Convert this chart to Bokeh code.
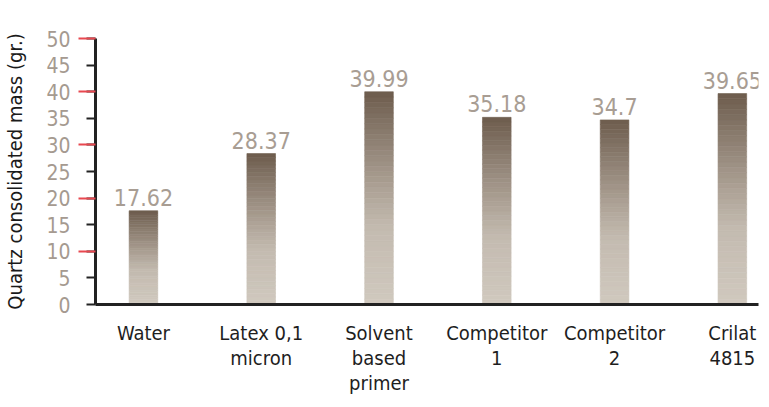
from bokeh.plotting import figure
from bokeh.models import Range1d, FixedTicker, ColumnDataSource, LabelSet
from bokeh.core.properties import value
from bokeh.embed import file_html
from bokeh.resources import INLINE

categories = ["Water", "Latex 0,1 micron", "Solvent based primer",
              "Competitor 1", "Competitor 2", "Crilat 4815"]
tick_labels = ["Water", "Latex 0,1\nmicron", "Solvent\nbased\nprimer",
               "Competitor\n1", "Competitor\n2", "Crilat\n4815"]
values = [17.62, 28.37, 39.99, 35.18, 34.7, 39.65]
y_ticks = [0, 5, 10, 15, 20, 25, 30, 35, 40, 45, 50]
y_major_red = [10, 20, 30, 40, 50]

FONT = "DejaVu Sans Condensed"

p = figure(width=761, height=399, output_backend="svg", toolbar_location=None,
           x_range=Range1d(-0.407, 5.222), y_range=Range1d(0, 50),
           min_border_left=87, min_border_right=3, min_border_top=38,
           min_border_bottom=95)
p.outline_line_color = None
p.grid.visible = False
p.background_fill_color = "white"
p.border_fill_color = "white"

def lerp(c1, c2, t):
    return tuple(int(round(a + (b - a) * t)) for a, b in zip(c1, c2))

bottom_c = (208, 201, 191)
mid_c = (196, 187, 176)
top_c = (109, 92, 77)
N = 40
xs, bots, tops, cols = [], [], [], []
for i, v in enumerate(values):
    for k in range(N):
        t = (k + 0.5) / N
        if t < 0.35:
            c = lerp(bottom_c, mid_c, t / 0.35)
        else:
            c = lerp(mid_c, top_c, ((t - 0.35) / 0.65) ** 1.1)
        xs.append(i)
        bots.append(v * k / N)
        tops.append(v * (k + 1) / N)
        cols.append("#%02x%02x%02x" % c)
src = ColumnDataSource(dict(x=xs, bottom=bots, top=tops, color=cols))
p.vbar(x="x", bottom="bottom", top="top", width=0.243, color="color",
       line_color="color", line_width=0.6, source=src)

lab = ColumnDataSource(dict(x=list(range(len(values))), y=values,
                            t=[str(v) for v in values]))
labels = LabelSet(x="x", y="y", text="t", source=lab, text_align="center",
                  text_baseline="bottom", y_offset=5, text_font=value(FONT),
                  text_font_size=value("23px"), text_color=value("#a89d93"))
p.add_layout(labels)

xa = p.xaxis[0]
xa.ticker = FixedTicker(ticks=list(range(len(categories))))
xa.major_label_overrides = {i: tick_labels[i] for i in range(len(categories))}
xa.major_tick_line_color = None
xa.minor_tick_line_color = None
xa.axis_line_color = "#222222"
xa.axis_line_width = 3
xa.major_label_text_font = FONT
xa.major_label_text_font_size = "20px"
xa.major_label_text_color = "#1e1e1e"
xa.major_label_standoff = 10
xa.major_label_text_line_height = 1.05

ya = p.yaxis[0]
ya.ticker = FixedTicker(ticks=y_ticks, minor_ticks=y_major_red)
ya.major_tick_line_color = "#222222"
ya.major_tick_line_width = 2
ya.major_tick_out = 9
ya.major_tick_in = 0
ya.minor_tick_line_color = "#e8474f"
ya.minor_tick_line_width = 2
ya.minor_tick_out = 17
ya.minor_tick_in = 0
ya.axis_line_color = "#222222"
ya.axis_line_width = 3
ya.major_label_text_font = FONT
ya.major_label_text_font_size = "21px"
ya.major_label_text_color = "#a59a90"
ya.major_label_standoff = 8
ya.axis_label = "Quartz consolidated mass (gr.)"
ya.axis_label_text_font = FONT
ya.axis_label_text_font_size = "20px"
ya.axis_label_text_font_style = "normal"
ya.axis_label_text_color = "#1a1a1a"
ya.axis_label_standoff = 16

open("out.html", "w").write(file_html(p, INLINE))
